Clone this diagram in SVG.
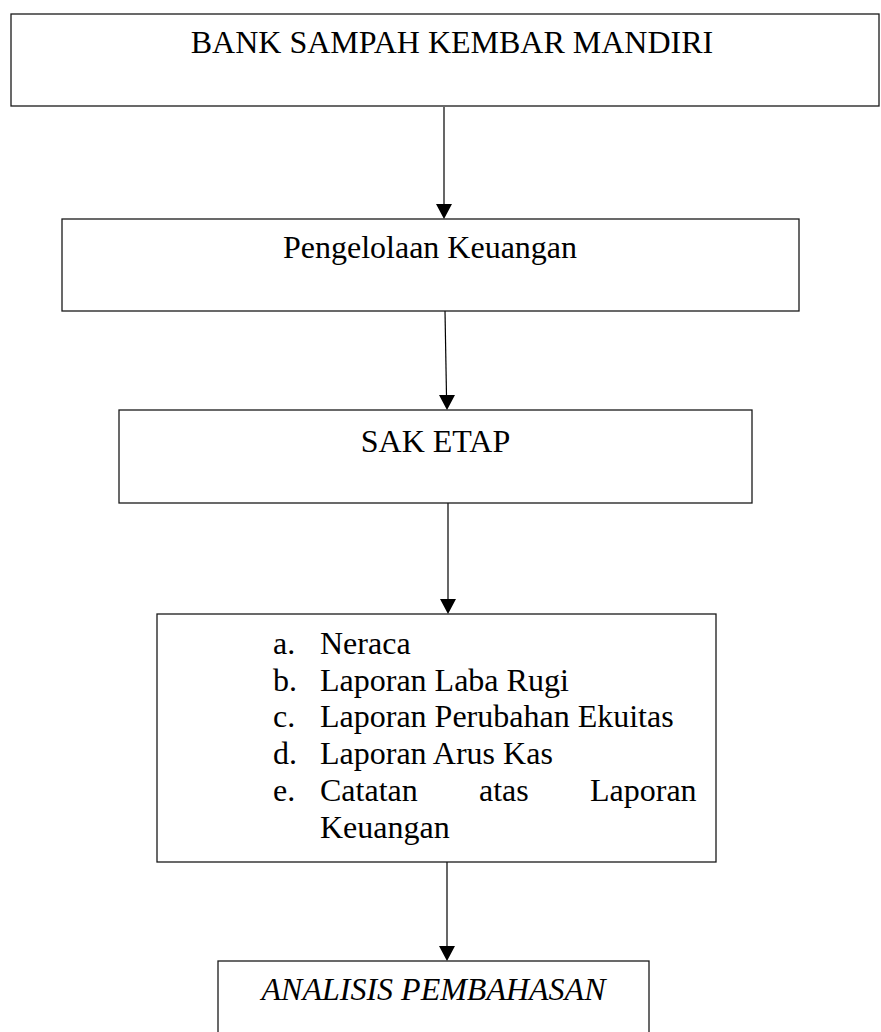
<svg xmlns="http://www.w3.org/2000/svg" width="881" height="1032" viewBox="0 0 881 1032">
<defs>
<style>
.box{fill:#fff;stroke:#1a1a1a;stroke-width:1.3}
.t{font-family:"Liberation Serif","Times New Roman",serif;font-size:32px;fill:#000}
.c{text-anchor:middle}
.i{font-style:italic}
.ln{stroke:#000;stroke-width:1.2;fill:none}
.ah{fill:#000}
</style>
</defs>
<rect width="881" height="1032" fill="#fff"/>
<g id="connectors">
<line class="ln" x1="444" y1="107" x2="444" y2="205"/>
<polygon class="ah" points="436,204 452,204 444,219"/>
<line class="ln" x1="445" y1="311" x2="446.5" y2="396"/>
<polygon class="ah" points="439,395 455,395 447,410"/>
<line class="ln" x1="448" y1="503" x2="448" y2="600"/>
<polygon class="ah" points="440,599 456,599 448,614"/>
<line class="ln" x1="447" y1="862" x2="447" y2="947"/>
<polygon class="ah" points="439,946 455,946 447,961"/>
</g>
<g id="node-bank">
<rect class="box" x="11" y="14" width="868" height="92"/>
<text class="t c" x="452" y="53">BANK SAMPAH KEMBAR MANDIRI</text>
</g>
<g id="node-pengelolaan">
<rect class="box" x="62" y="219" width="737" height="92"/>
<text class="t c" x="430" y="258">Pengelolaan Keuangan</text>
</g>
<g id="node-saketap">
<rect class="box" x="119" y="410" width="633" height="93"/>
<text class="t c" x="435.5" y="452">SAK ETAP</text>
</g>
<g id="node-laporan">
<rect class="box" x="157" y="614" width="559" height="248"/>
<text class="t" x="273" y="654">a.</text><text class="t" x="320" y="654">Neraca</text>
<text class="t" x="273" y="691">b.</text><text class="t" x="320" y="691">Laporan Laba Rugi</text>
<text class="t" x="273" y="727">c.</text><text class="t" x="320" y="727">Laporan Perubahan Ekuitas</text>
<text class="t" x="273" y="764">d.</text><text class="t" x="320" y="764">Laporan Arus Kas</text>
<text class="t" x="273" y="801">e.</text><text class="t" x="320" y="801">Catatan</text><text class="t" x="479" y="801">atas</text><text class="t" x="590" y="801">Laporan</text>
<text class="t" x="320" y="838">Keuangan</text>
</g>
<g id="node-analisis">
<rect class="box" x="218" y="961" width="431" height="90"/>
<text class="t c i" x="433.5" y="1000">ANALISIS PEMBAHASAN</text>
</g>
</svg>
